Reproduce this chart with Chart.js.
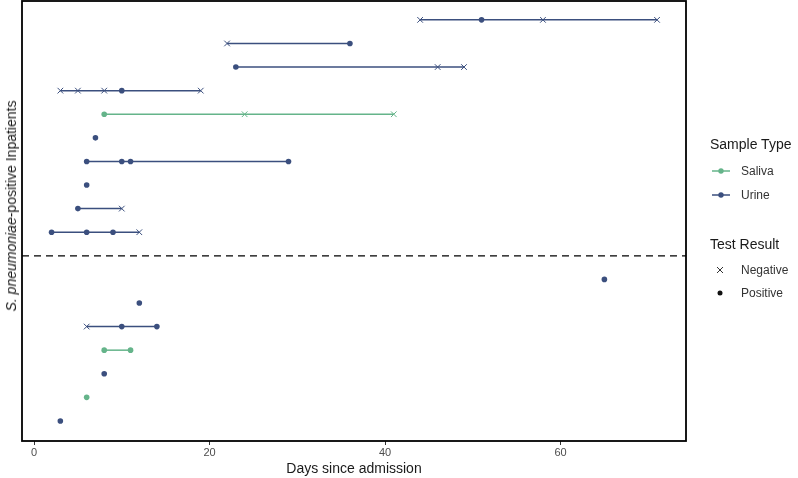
<!DOCTYPE html>
<html>
<head>
<meta charset="utf-8">
<script src="https://cdn.jsdelivr.net/npm/chart.js@4"></script>
<style>
  body { margin: 0; background: #fff; font-family: "Liberation Sans", Arial, sans-serif; }
  #wrap { position: relative; width: 798px; height: 478px; }
  #ytitle {
    position: absolute; left: 11px; top: 206px;
    transform: translate(-50%, -50%) rotate(-90deg);
    white-space: nowrap; font-size: 14px; color: #1a1a1a;
  }
  .lg { position: absolute; white-space: nowrap; }
  .lgtitle { font-size: 14px; color: #1a1a1a; }
  .lglabel { font-size: 12px; color: #333; }
  svg.sym { position: absolute; }
</style>
</head>
<body>
<div id="wrap">
  <canvas id="chart" width="798" height="478"></canvas>
  <div id="ytitle"><i>S. pneumoniae</i>-positive Inpatients</div>

  <div class="lg lgtitle" style="left:710px; top:136px;">Sample Type</div>
  <svg class="sym" style="left:710px; top:164px;" width="22" height="14">
    <line x1="2" y1="7" x2="20" y2="7" stroke="#65b48a" stroke-width="1.5"/>
    <circle cx="11" cy="7" r="2.7" fill="#65b48a"/>
  </svg>
  <div class="lg lglabel" style="left:741px; top:164px;">Saliva</div>
  <svg class="sym" style="left:710px; top:188px;" width="22" height="14">
    <line x1="2" y1="7" x2="20" y2="7" stroke="#3b4f7e" stroke-width="1.5"/>
    <circle cx="11" cy="7" r="2.7" fill="#3b4f7e"/>
  </svg>
  <div class="lg lglabel" style="left:741px; top:188px;">Urine</div>

  <div class="lg lgtitle" style="left:710px; top:236px;">Test Result</div>
  <svg class="sym" style="left:713px; top:263px;" width="14" height="14">
    <line x1="4" y1="4" x2="10" y2="10" stroke="#333" stroke-width="1"/>
    <line x1="10" y1="4" x2="4" y2="10" stroke="#333" stroke-width="1"/>
  </svg>
  <div class="lg lglabel" style="left:741px; top:263px;">Negative</div>
  <svg class="sym" style="left:713px; top:286px;" width="14" height="14">
    <circle cx="7" cy="7" r="2.5" fill="#111"/>
  </svg>
  <div class="lg lglabel" style="left:741px; top:286px;">Positive</div>
</div>

<script>
// one entry per patient row (row 1 = bottom)
const rowY = [18, 17, 16, 15, 14, 13, 12, 11, 10, 9, 7, 6, 5, 4, 3, 2, 1];
const rowSample = ['Urine', 'Urine', 'Urine', 'Urine', 'Saliva', 'Urine', 'Urine', 'Urine', 'Urine', 'Urine',
                   'Urine', 'Urine', 'Urine', 'Saliva', 'Urine', 'Saliva', 'Urine'];
const rowDays = [
  [44, 51, 58, 71], [22, 36], [23, 46, 49], [3, 5, 8, 10, 19], [8, 24, 41], [7], [6, 10, 11, 29], [6], [5, 10], [2, 6, 9, 12],
  [65], [12], [6, 10, 14], [8, 11], [8], [6], [3]
];
const rowResult = [
  ['N', 'P', 'N', 'N'], ['N', 'P'], ['P', 'N', 'N'], ['N', 'N', 'N', 'P', 'N'], ['P', 'N', 'N'], ['P'], ['P', 'P', 'P', 'P'], ['P'], ['P', 'N'], ['P', 'P', 'P', 'N'],
  ['P'], ['P'], ['N', 'P', 'P'], ['P', 'P'], ['P'], ['P'], ['P']
];
const xTicks = [0, 20, 40, 60];
const dividerY = 8;

const sampleColors = { Saliva: '#65b48a', Urine: '#3b4f7e' };
const xMin = -1.37, xMax = 74.3;

const datasets = rowY.map((y, i) => {
  const col = sampleColors[rowSample[i]];
  const res = rowResult[i];
  return {
    data: rowDays[i].map(d => ({ x: d, y: y })),
    borderColor: col,
    borderWidth: 1.5,
    pointStyle: res.map(r => r === 'N' ? 'crossRot' : 'circle'),
    pointRadius: res.map(r => r === 'N' ? 4 : 2.8),
    pointBackgroundColor: col,
    pointBorderColor: col,
    pointBorderWidth: res.map(r => r === 'N' ? 1 : 0),
    tension: 0
  };
});

// dashed divider across the panel
datasets.push({
  data: [{ x: xMin, y: dividerY }, { x: xMax, y: dividerY }],
  borderColor: '#000',
  borderWidth: 1.2,
  borderDash: [7, 5],
  pointRadius: 0
});

// black frame around the panel
const frame = {
  id: 'frame',
  afterDatasetsDraw(chart) {
    const a = chart.chartArea, ctx = chart.ctx;
    ctx.save();
    ctx.strokeStyle = '#000';
    ctx.lineWidth = 1.8;
    ctx.strokeRect(a.left, a.top, a.right - a.left, a.bottom - a.top);
    ctx.restore();
  }
};

new Chart(document.getElementById('chart'), {
  type: 'line',
  data: { datasets: datasets },
  plugins: [frame],
  options: {
    responsive: false,
    animation: false,
    layout: { autoPadding: false, padding: { left: 22, right: 112, top: 1, bottom: 0 } },
    plugins: { legend: { display: false }, tooltip: { enabled: false } },
    scales: {
      x: {
        type: 'linear',
        min: xMin,
        max: xMax,
        afterBuildTicks: axis => { axis.ticks = xTicks.map(v => ({ value: v })); },
        afterFit: axis => { axis.height = 37; },
        grid: { drawOnChartArea: false, drawTicks: true, tickLength: 4, color: '#333' },
        border: { display: false },
        ticks: { font: { size: 11, family: 'Liberation Sans' }, color: '#4d4d4d', padding: 1, maxRotation: 0 },
        title: { display: true, text: 'Days since admission', font: { size: 14, family: 'Liberation Sans' }, color: '#1a1a1a', padding: { top: 0, bottom: 0 } }
      },
      y: { type: 'linear', display: false, min: 0.15, max: 18.8 }
    }
  }
});
</script>
</body>
</html>
